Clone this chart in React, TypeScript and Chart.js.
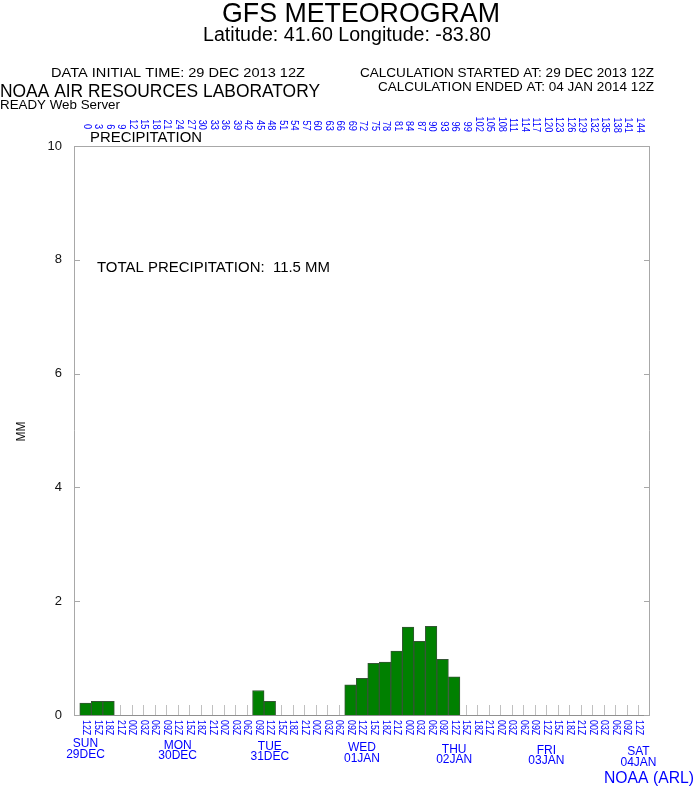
import React, { useEffect, useRef } from 'react';
import { Chart, registerables } from 'chart.js';

Chart.register(...registerables);

// ---- data ----
const forecastHours = [0, 3, 6, 9, 12, 15, 18, 21, 24, 27, 30, 33, 36, 39, 42, 45, 48, 51, 54, 57, 60, 63, 66, 69, 72, 75, 78, 81, 84, 87, 90, 93, 96, 99, 102, 105, 108, 111, 114, 117, 120, 123, 126, 129, 132, 135, 138, 141, 144];
const timeLabels = ['12Z', '15Z', '18Z', '21Z', '00Z', '03Z', '06Z', '09Z', '12Z', '15Z', '18Z', '21Z', '00Z', '03Z', '06Z', '09Z', '12Z', '15Z', '18Z', '21Z', '00Z', '03Z', '06Z', '09Z', '12Z', '15Z', '18Z', '21Z', '00Z', '03Z', '06Z', '09Z', '12Z', '15Z', '18Z', '21Z', '00Z', '03Z', '06Z', '09Z', '12Z', '15Z', '18Z', '21Z', '00Z', '03Z', '06Z', '09Z', '12Z'];
const precipMM = [0.21, 0.24, 0.24, 0, 0, 0, 0, 0, 0, 0, 0, 0, 0, 0, 0, 0.43, 0.24, 0, 0, 0, 0, 0, 0, 0.53, 0.645, 0.91, 0.93, 1.125, 1.545, 1.295, 1.56, 0.98, 0.67, 0, 0, 0, 0, 0, 0, 0, 0, 0, 0, 0, 0, 0, 0, 0, 0];
const dayNames = ['SUN', 'MON', 'TUE', 'WED', 'THU', 'FRI', 'SAT'];
const dayDates = ['29DEC', '30DEC', '31DEC', '01JAN', '02JAN', '03JAN', '04JAN'];
const dayHours = [0, 24, 48, 72, 96, 120, 144];
const yTicks = [0, 2, 4, 6, 8, 10];
const totalPrecipText = 'TOTAL PRECIPITATION:  11.5 MM';

const FONT = '"Liberation Sans", Arial, Helvetica, sans-serif';
const BLUE = '#0000ff';

type TOpts = {
  size: number;
  color?: string;
  align?: CanvasTextAlign;
  baseline?: CanvasTextBaseline;
  rot?: number;
  w?: number;
  sx?: number;
};

function txt(ctx: CanvasRenderingContext2D, s: string, x: number, y: number, o: TOpts) {
  ctx.save();
  ctx.font = `${o.size}px ${FONT}`;
  let sx = o.sx ?? 1;
  if (o.w) sx = o.w / ctx.measureText(s).width;
  ctx.translate(x, y);
  if (o.rot) ctx.rotate(o.rot);
  ctx.scale(sx, 1);
  ctx.fillStyle = o.color ?? '#000';
  ctx.textAlign = o.align ?? 'left';
  ctx.textBaseline = o.baseline ?? 'alphabetic';
  ctx.fillText(s, 0, 0);
  ctx.restore();
}

const framePlugin = {
  id: 'meteoFrame',
  beforeDatasetsDraw(chart: any) {
    const ctx: CanvasRenderingContext2D = chart.ctx;
    const { bottom } = chart.chartArea;
    const xs = chart.scales.x;
    ctx.save();
    ctx.strokeStyle = '#c0c0c0';
    ctx.lineWidth = 1;
    forecastHours.forEach((h) => {
      const px = Math.round(xs.getPixelForValue(h)) + 0.5;
      ctx.beginPath();
      ctx.moveTo(px, bottom - 10);
      ctx.lineTo(px, bottom);
      ctx.stroke();
    });
    ctx.restore();
  },
  afterDatasetsDraw(chart: any) {
    const ctx: CanvasRenderingContext2D = chart.ctx;
    const { left, right, top, bottom } = chart.chartArea;
    const xs = chart.scales.x;
    const ys = chart.scales.y;
    ctx.save();
    ctx.lineWidth = 1;
    ctx.strokeStyle = '#a8a8a8';
    ctx.beginPath();
    ctx.moveTo(left + 0.5, bottom);
    ctx.lineTo(left + 0.5, top + 0.5);
    ctx.lineTo(right - 0.5, top + 0.5);
    ctx.lineTo(right - 0.5, bottom);
    ctx.stroke();
    ctx.strokeStyle = '#909090';
    ctx.beginPath();
    ctx.moveTo(left, bottom + 0.5);
    ctx.lineTo(right, bottom + 0.5);
    ctx.stroke();
    ctx.strokeStyle = '#a8a8a8';
    yTicks.forEach((v) => {
      const py = Math.round(ys.getPixelForValue(v)) + 0.5;
      ctx.beginPath();
      ctx.moveTo(left, py);
      ctx.lineTo(left + 6, py);
      ctx.moveTo(right - 6, py);
      ctx.lineTo(right, py);
      ctx.stroke();
    });
    ctx.restore();

    yTicks.forEach((v) => {
      txt(ctx, String(v), left - 12, ys.getPixelForValue(v), { size: 13, align: 'right', baseline: 'middle', color: '#111' });
    });
    txt(ctx, 'MM', 22, ys.getPixelForValue(5) + 1, { size: 12, align: 'center', baseline: 'middle', rot: -Math.PI / 2, color: '#111' });

    forecastHours.forEach((h, i) => {
      txt(ctx, timeLabels[i], xs.getPixelForValue(h) + 0.5, bottom + 5, { size: 11, align: 'left', baseline: 'middle', rot: Math.PI / 2, sx: 0.8, color: BLUE });
    });
    forecastHours.forEach((h) => {
      const px = xs.getPixelForValue(h);
      const yEnd = 129 + (px - left) * 0.007;
      txt(ctx, String(h), px + 1.5, yEnd, { size: 11.5, align: 'right', baseline: 'middle', rot: Math.PI / 2, sx: 0.8, color: BLUE });
    });
    dayHours.forEach((h, i) => {
      const px = xs.getPixelForValue(h);
      const dy = (px - left) * 0.0145;
      txt(ctx, dayNames[i], px, 747 + dy, { size: 12, align: 'center', color: BLUE });
      txt(ctx, dayDates[i], px, 757.5 + dy, { size: 12, align: 'center', color: BLUE });
    });
    txt(ctx, 'NOAA (ARL)', 694, 783, { size: 17, align: 'right', color: BLUE, w: 90 });

    txt(ctx, 'GFS METEOROGRAM', 222, 22, { size: 28, w: 278 });
    txt(ctx, 'Latitude: 41.60 Longitude: -83.80', 203, 41, { size: 20, w: 288 });
    txt(ctx, 'DATA INITIAL TIME: 29 DEC 2013 12Z', 51, 77, { size: 13, w: 254 });
    txt(ctx, 'CALCULATION STARTED AT: 29 DEC 2013 12Z', 654, 77, { size: 13, align: 'right', w: 294 });
    txt(ctx, 'CALCULATION ENDED AT: 04 JAN 2014 12Z', 654, 91, { size: 13, align: 'right', w: 276 });
    txt(ctx, 'NOAA AIR RESOURCES LABORATORY', 0, 97, { size: 19, w: 320 });
    txt(ctx, 'READY Web Server', 0, 109, { size: 13, w: 120 });
    txt(ctx, 'PRECIPITATION', 90, 142, { size: 15, w: 112 });
    txt(ctx, totalPrecipText, 97, 272, { size: 15, w: 233 });
  },
};

export default function App() {
  const ref = useRef<HTMLCanvasElement | null>(null);
  useEffect(() => {
    if (!ref.current) return;
    const chart = new Chart(ref.current, {
      type: 'bar',
      data: {
        datasets: [
          {
            data: forecastHours.map((h, i) => ({ x: h, y: precipMM[i] > 0 ? precipMM[i] : null })) as any,
            backgroundColor: '#008000',
            borderColor: '#355535',
            borderWidth: 1,
            borderSkipped: 'bottom',
            barPercentage: 1,
            categoryPercentage: 1,
          },
        ],
      },
      options: {
        responsive: false,
        animation: false,
        events: [],
        layout: { padding: { left: 74, right: 45, top: 146, bottom: 72 } },
        scales: {
          x: { type: 'linear', min: -3, max: 147, offset: false, display: false, ticks: { stepSize: 3 } },
          y: { type: 'linear', min: 0, max: 10, display: false },
        },
        plugins: { legend: { display: false }, tooltip: { enabled: false } },
      },
      plugins: [framePlugin],
    });
    return () => chart.destroy();
  }, []);
  return (
    <div style={{ position: 'absolute', left: 0, top: 0, width: 695, height: 787, background: '#fff' }}>
      <canvas ref={ref} width={695} height={787} style={{ width: 695, height: 787, display: 'block' }} />
    </div>
  );
}
